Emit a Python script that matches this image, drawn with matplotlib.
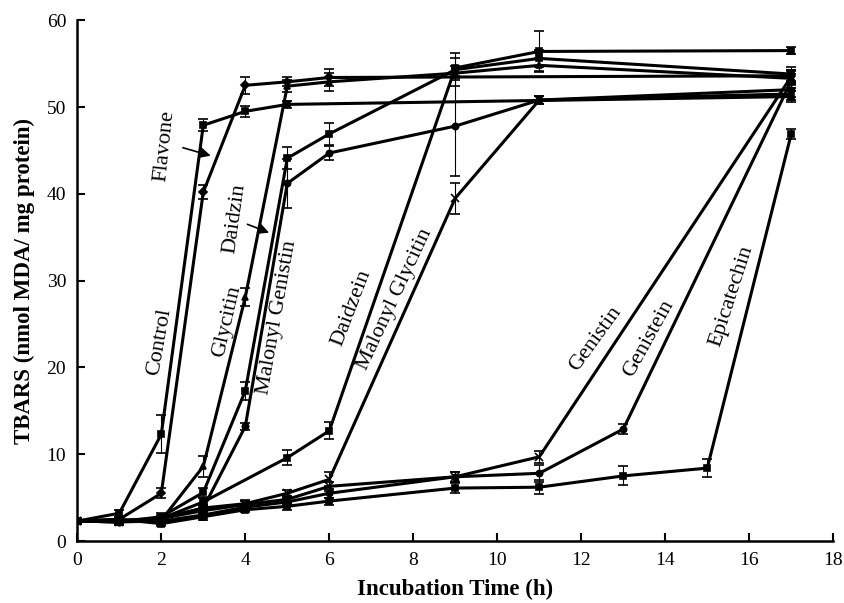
import matplotlib
matplotlib.use("Agg")
import matplotlib.pyplot as plt

plt.rcParams['font.family'] = ['Liberation Serif', 'DejaVu Serif']

# ---------------- Data (TBARS, nmol MDA / mg protein) -----------------
control_t = [0, 1, 2, 3, 4, 5, 17]
control_v = [2.3, 3.2, 12.3, 47.9, 49.5, 50.3, 51.2]
control_e = [0.3, 0.4, 2.2, 0.7, 0.6, 0.4, 0.6]

flavone_t = [0, 1, 2, 3, 4, 5, 6, 17]
flavone_v = [2.3, 2.5, 5.5, 40.2, 52.5, 52.9, 53.4, 53.6]
flavone_e = [0.3, 0.3, 0.6, 0.8, 1.0, 0.5, 1.0, 0.7]

glycitin_t = [0, 1, 2, 3, 4, 5, 6, 9, 11, 17]
glycitin_v = [2.3, 2.3, 2.4, 8.6, 28.1, 52.4, 52.9, 53.9, 54.8, 53.3]
glycitin_e = [0.3, 0.3, 0.3, 1.2, 1.0, 0.7, 1.0, 0.8, 0.8, 0.8]

daidzin_t = [0, 1, 2, 3, 4, 5, 6, 9, 11, 17]
daidzin_v = [2.3, 2.2, 2.8, 5.6, 17.3, 44.1, 46.9, 54.3, 55.6, 53.8]
daidzin_e = [0.3, 0.3, 0.4, 0.5, 1.0, 1.3, 1.3, 1.9, 1.0, 0.8]

mal_genistin_t = [0, 1, 2, 3, 4, 5, 6, 9, 11, 17]
mal_genistin_v = [2.3, 2.2, 2.6, 3.8, 13.2, 41.2, 44.7, 47.8, 50.8, 52.0]
mal_genistin_e = [0.3, 0.3, 0.3, 0.5, 0.4, 2.8, 0.8, 5.8, 0.5, 0.8]

daidzein_t = [0, 1, 2, 3, 5, 6, 9, 11, 17]
daidzein_v = [2.3, 2.4, 2.6, 4.5, 9.6, 12.7, 54.5, 56.4, 56.5]
daidzein_e = [0.3, 0.3, 0.3, 0.4, 0.9, 1.0, 1.2, 2.3, 0.4]

mal_glycitin_t = [0, 1, 2, 3, 4, 5, 6, 9, 11, 17]
mal_glycitin_v = [2.3, 2.2, 2.6, 3.8, 4.3, 5.5, 7.1, 39.5, 50.8, 51.5]
mal_glycitin_e = [0.3, 0.3, 0.3, 0.4, 0.4, 0.4, 0.8, 1.8, 0.5, 0.7]

genistin_t = [0, 1, 2, 3, 4, 5, 6, 9, 11, 17]
genistin_v = [2.3, 2.3, 2.6, 3.5, 4.2, 4.8, 6.3, 7.4, 9.7, 53.5]
genistin_e = [0.3, 0.3, 0.3, 0.4, 0.4, 0.4, 0.5, 0.6, 0.7, 0.8]

genistein_t = [0, 1, 2, 3, 4, 5, 6, 9, 11, 13, 17]
genistein_v = [2.3, 2.2, 2.3, 3.0, 3.9, 4.5, 5.5, 7.4, 7.8, 12.9, 53.0]
genistein_e = [0.3, 0.3, 0.3, 0.4, 0.4, 0.4, 0.5, 0.6, 1.0, 0.6, 0.8]

epicatechin_t = [0, 1, 2, 3, 4, 5, 6, 9, 11, 13, 15, 17]
epicatechin_v = [2.3, 2.5, 2.0, 2.8, 3.6, 4.0, 4.6, 6.1, 6.2, 7.5, 8.4, 46.9]
epicatechin_e = [0.3, 0.3, 0.3, 0.4, 0.3, 0.4, 0.4, 0.6, 0.8, 1.1, 1.0, 0.6]

series = [
    (control_t, control_v, control_e, 's'),
    (flavone_t, flavone_v, flavone_e, 'D'),
    (glycitin_t, glycitin_v, glycitin_e, '^'),
    (daidzin_t, daidzin_v, daidzin_e, 's'),
    (mal_genistin_t, mal_genistin_v, mal_genistin_e, 'o'),
    (daidzein_t, daidzein_v, daidzein_e, 's'),
    (mal_glycitin_t, mal_glycitin_v, mal_glycitin_e, 'x'),
    (genistin_t, genistin_v, genistin_e, 'x'),
    (genistein_t, genistein_v, genistein_e, 'o'),
    (epicatechin_t, epicatechin_v, epicatechin_e, 's'),
]

# ---------------- Plot -----------------
fig = plt.figure(figsize=(8.45, 6.03), dpi=100)
ax = fig.add_axes([0.0915, 0.1028, 0.8946, 0.8637])

for t, v, e, m in series:
    ms = 6 if m == 'x' else 4.5
    ax.errorbar(t, v, yerr=e, color='black', lw=2.2, marker=m, ms=ms,
                mew=1.2, elinewidth=0.8, capsize=3.5, capthick=0.8)

# curve labels, written along the lines
lab_kw = dict(fontsize=16, ha='center', va='center', rotation_mode='anchor')
ax.text(2.09, 45.5, 'Flavone', rotation=84, **lab_kw)
ax.text(3.76, 37.2, 'Daidzin', rotation=82, **lab_kw)
ax.text(1.97, 23.0, 'Control', rotation=80, **lab_kw)
ax.text(3.57, 25.3, 'Glycitin', rotation=77, **lab_kw)
ax.text(4.76, 25.7, 'Malonyl Genistin', rotation=80, **lab_kw)
ax.text(6.54, 26.8, 'Daidzein', rotation=69, **lab_kw)
ax.text(7.57, 27.9, 'Malonyl Glycitin', rotation=65, **lab_kw)
ax.text(12.33, 23.3, 'Genistin', rotation=54, **lab_kw)
ax.text(13.61, 23.3, 'Genistein', rotation=61, **lab_kw)
ax.text(15.59, 28.2, 'Epicatechin', rotation=72, **lab_kw)

arrow = dict(arrowstyle='-|>', color='black', lw=1.2, mutation_scale=16)
ax.annotate('', xy=(3.24, 44.3), xytext=(2.45, 45.4), arrowprops=arrow)
ax.annotate('', xy=(4.63, 35.4), xytext=(3.99, 36.6), arrowprops=arrow)

ax.set_xlim(0, 18)
ax.set_ylim(0, 60)
ax.set_xticks(range(0, 19, 2))
ax.set_yticks(range(0, 61, 10))
ax.spines['top'].set_visible(False)
ax.spines['right'].set_visible(False)
ax.spines['left'].set_linewidth(1.8)
ax.spines['bottom'].set_linewidth(1.8)
ax.tick_params(direction='in', length=6, width=1.5, labelsize=14, pad=8)

ax.set_xlabel('Incubation Time (h)', fontsize=16.5, fontweight='bold', labelpad=7)
ax.set_ylabel('TBARS (nmol MDA/ mg protein)', fontsize=16.5, fontweight='bold', labelpad=8)

fig.savefig('out.png', dpi=100)
